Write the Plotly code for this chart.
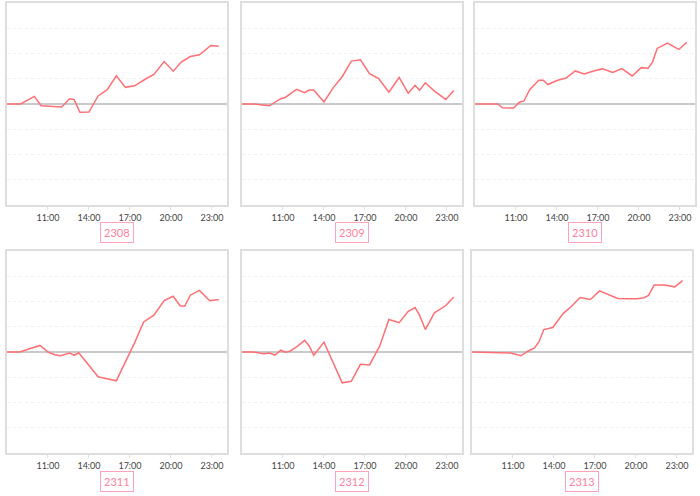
import plotly.graph_objects as go

labels = ["2308", "2309", "2310", "2311", "2312", "2313"]

times_2308 = ["08:00", "09:00", "10:00", "10:30", "12:00", "12:35", "12:55", "13:20", "14:00", "14:40",
              "15:20", "16:00", "16:40", "17:20", "18:10", "18:45", "19:30", "20:10", "20:45", "21:25",
              "22:05", "22:55", "23:30"]
values_2308 = [0, 0, 0.30, -0.07, -0.12, 0.21, 0.17, -0.33, -0.32, 0.32,
               0.57, 1.12, 0.66, 0.72, 1.00, 1.17, 1.68, 1.30, 1.66, 1.88,
               1.95, 2.32, 2.29]

times_2309 = ["08:00", "08:50", "10:00", "10:50", "11:10", "11:30", "12:00", "12:35", "12:55", "13:15",
              "14:00", "14:40", "15:20", "16:00", "16:40", "17:20", "18:00", "18:45", "19:30", "20:10",
              "20:40", "21:00", "21:25", "22:05", "22:55", "23:30"]
values_2309 = [0, 0, -0.07, 0.21, 0.26, 0.38, 0.58, 0.45, 0.55, 0.55,
               0.08, 0.64, 1.08, 1.70, 1.75, 1.20, 1.01, 0.47, 1.05, 0.43,
               0.74, 0.54, 0.84, 0.51, 0.18, 0.53]

times_2310 = ["08:00", "09:40", "10:00", "10:50", "11:15", "11:35", "12:00", "12:40", "13:00", "13:20",
              "14:00", "14:40", "15:20", "16:00", "16:45", "17:20", "18:05", "18:45", "19:30", "20:10",
              "20:40", "21:00", "21:20", "22:05", "22:55", "23:30"]
values_2310 = [0, 0, -0.15, -0.16, 0.07, 0.12, 0.57, 0.94, 0.94, 0.77,
               0.93, 1.03, 1.31, 1.19, 1.32, 1.39, 1.25, 1.40, 1.11, 1.44,
               1.42, 1.67, 2.20, 2.41, 2.16, 2.44]

times_2311 = ["08:00", "08:55", "10:25", "11:00", "11:30", "11:55", "12:35", "12:55", "13:15", "14:40",
              "16:00", "16:40", "17:20", "18:00", "18:45", "19:30", "20:10", "20:40", "21:00", "21:25",
              "22:05", "22:50", "23:30"]
values_2311 = [0, 0, 0.26, 0.0, -0.11, -0.15, -0.04, -0.13, -0.03, -0.98,
               -1.14, -0.40, 0.36, 1.19, 1.46, 2.04, 2.21, 1.83, 1.81, 2.25,
               2.44, 2.03, 2.08]

times_2312 = ["08:00", "08:50", "09:35", "10:00", "10:25", "10:50", "11:10", "11:30", "12:00", "12:35",
              "12:55", "13:15", "14:00", "14:40", "15:20", "16:00", "16:40", "17:20", "18:05", "18:45",
              "19:30", "20:10", "20:40", "21:00", "21:25", "22:05", "22:55", "23:30"]
values_2312 = [0, 0, -0.07, -0.04, -0.12, 0.07, -0.01, 0.03, 0.20, 0.46,
               0.24, -0.13, 0.39, -0.39, -1.22, -1.16, -0.49, -0.51, 0.24, 1.29,
               1.16, 1.61, 1.76, 1.45, 0.89, 1.55, 1.84, 2.18]

times_2313 = ["08:00", "09:25", "10:50", "11:35", "12:05", "12:35", "12:55", "13:15", "13:55", "14:40",
              "15:15", "15:55", "16:40", "17:20", "18:05", "18:40", "19:20", "20:05", "20:35", "20:55",
              "21:20", "22:05", "22:50", "23:25"]
values_2313 = [0, -0.01, -0.04, -0.15, 0.03, 0.16, 0.42, 0.89, 0.97, 1.52,
               1.79, 2.16, 2.08, 2.42, 2.25, 2.12, 2.11, 2.11, 2.15, 2.24,
               2.65, 2.65, 2.58, 2.83]

tick_labels = ["11:00", "14:00", "17:00", "20:00", "23:00"]

series = [(times_2308, values_2308), (times_2309, values_2309), (times_2310, values_2310),
          (times_2311, values_2311), (times_2312, values_2312), (times_2313, values_2313)]

W, H = 700, 496
# panel pixel boxes (left, right, top, bottom)
boxes = [(7, 227, 3, 205), (242, 462, 3, 205), (475, 695, 3, 205),
         (7, 227, 251, 453), (242, 462, 251, 453), (472, 692, 251, 453)]

DAY = "2024-01-01 "
def ts(t):
    return DAY + t

fig = go.Figure()
for i, ((tt, vv), (l, r, t, b)) in enumerate(zip(series, boxes)):
    n = "" if i == 0 else str(i + 1)
    fig.add_trace(go.Scatter(
        x=[ts(x) for x in tt], y=vv, mode="lines",
        line=dict(color="#ff6f73", width=1.5),
        xaxis="x" + n, yaxis="y" + n, showlegend=False, hoverinfo="skip"))
    fig.layout["xaxis" + n] = dict(
        domain=[l / W, r / W], anchor="y" + n, type="date",
        range=[DAY + "08:00", "2024-01-02 00:06"],
        tickvals=[ts(x) for x in tick_labels], ticktext=tick_labels,
        showgrid=False, zeroline=False,
        showline=True, mirror=True, linecolor="#dedede", linewidth=1.5,
        ticks="outside", ticklen=3, tickcolor="#e2e2e2",
        tickfont=dict(family="Lato", size=9, color="#444"),
        fixedrange=True)
    fig.layout["yaxis" + n] = dict(
        domain=[1 - b / H, 1 - t / H], anchor="x" + n,
        range=[-4, 4], dtick=1, showticklabels=False,
        showgrid=True, gridcolor="#f0f0f0", griddash="dot", gridwidth=1,
        zeroline=True, zerolinecolor="#c9c9c9", zerolinewidth=1.5,
        showline=True, mirror=True, linecolor="#dedede", linewidth=1.5,
        fixedrange=True)
    cy = 232 if i < 3 else 481
    fig.add_annotation(
        x=(l + r) / 2 / W, y=1 - cy / H, xref="paper", yref="paper",
        text=labels[i], showarrow=False,
        font=dict(family="Lato", size=11, color="#ff7f9c"),
        bordercolor="#ffa3ba", borderwidth=1, borderpad=3, bgcolor="white",
        xanchor="center", yanchor="middle")

fig.update_layout(width=W, height=H, margin=dict(l=0, r=0, t=0, b=0),
                  paper_bgcolor="white", plot_bgcolor="white")
fig.write_html("out.html", config={"displayModeBar": False},
               post_script="document.body.style.margin='0';document.body.style.overflow='hidden';")
